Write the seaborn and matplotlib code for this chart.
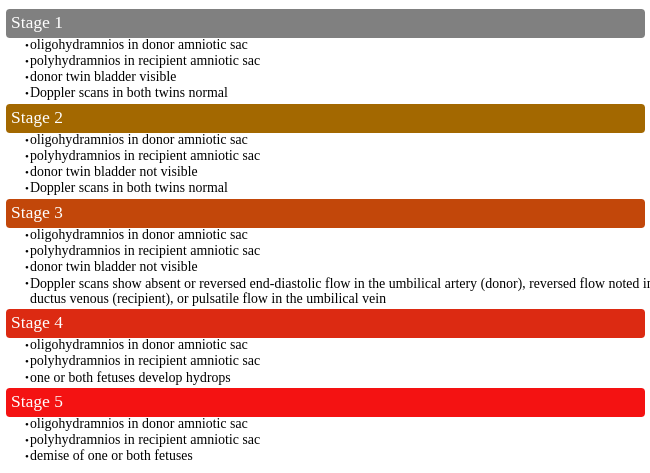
import matplotlib.pyplot as plt
import seaborn as sns
from matplotlib.patches import FancyBboxPatch

stages = ['Stage 1', 'Stage 2', 'Stage 3', 'Stage 4', 'Stage 5']
stage_colors = ['#808080', '#A36800', '#C2470A', '#DC2A12', '#F41212']
bullets = [
    ['oligohydramnios in donor amniotic sac',
     'polyhydramnios in recipient amniotic sac',
     'donor twin bladder visible',
     'Doppler scans in both twins normal'],
    ['oligohydramnios in donor amniotic sac',
     'polyhydramnios in recipient amniotic sac',
     'donor twin bladder not visible',
     'Doppler scans in both twins normal'],
    ['oligohydramnios in donor amniotic sac',
     'polyhydramnios in recipient amniotic sac',
     'donor twin bladder not visible',
     'Doppler scans show absent or reversed end-diastolic flow in the umbilical artery (donor), reversed flow noted in the\nductus venous (recipient), or pulsatile flow in the umbilical vein'],
    ['oligohydramnios in donor amniotic sac',
     'polyhydramnios in recipient amniotic sac',
     'one or both fetuses develop hydrops'],
    ['oligohydramnios in donor amniotic sac',
     'polyhydramnios in recipient amniotic sac',
     'demise of one or both fetuses'],
]

sns.set_theme(style='white')
plt.rcParams['font.family'] = 'Liberation Serif'

fig = plt.figure(figsize=(6.5, 4.73), dpi=100)
ax = fig.add_axes([0, 0, 1, 1])
ax.set_xlim(0, 650)
ax.set_ylim(473, 0)
ax.axis('off')

y = 9
line_h = 16
for name, color, items in zip(stages, stage_colors, bullets):
    box = FancyBboxPatch((6, y), 639, 29, boxstyle='round,pad=0,rounding_size=4',
                         facecolor=color, edgecolor='none')
    ax.add_patch(box)
    ax.text(11, y + 15, name, color='white', fontsize=12.5, va='center', ha='left')
    y += 37
    for item in items:
        nlines = item.count('\n') + 1
        ax.text(24, y, '\u2022', fontsize=8, va='center', ha='left', color='black')
        ax.text(30, y - 7, item, fontsize=10, va='top', ha='left',
                color='black', linespacing=1.1)
        y += line_h + (nlines - 1) * 15
    y -= 6

fig.savefig('out.png', dpi=100)
